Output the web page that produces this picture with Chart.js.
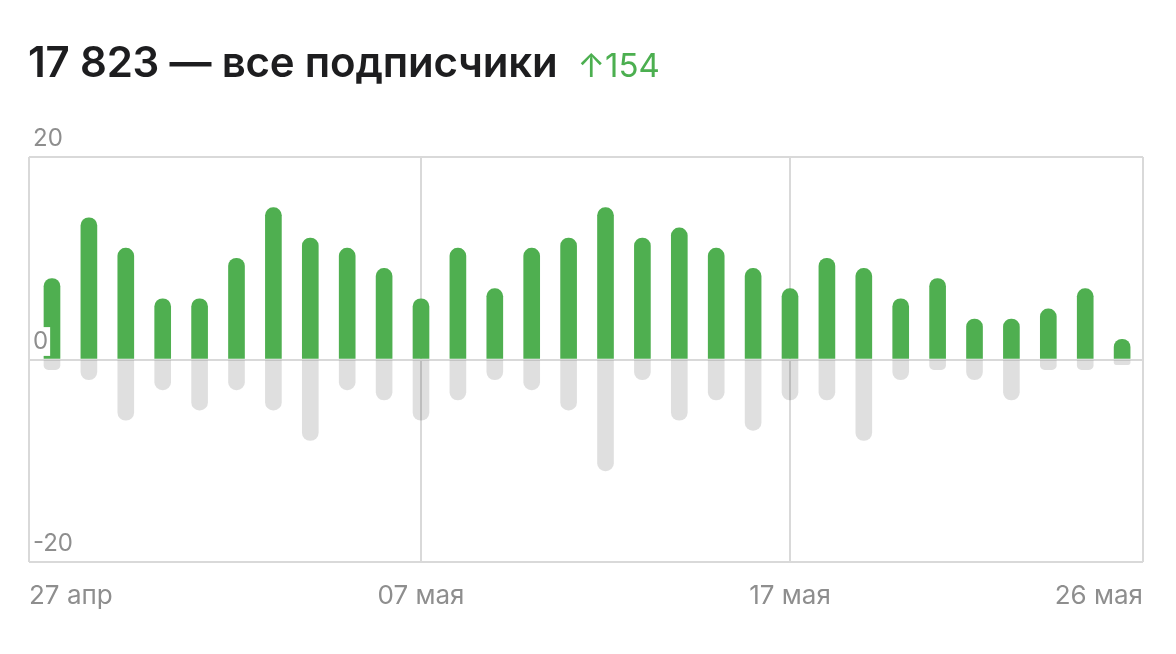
<!DOCTYPE html>
<html><head><meta charset="utf-8">
<script src="https://cdn.jsdelivr.net/npm/chart.js@4"></script>
<style>
html,body{margin:0;padding:0;background:#fff;}
#wrap{position:relative;width:1176px;height:654px;overflow:hidden;}
canvas{position:absolute;left:0;top:0;}
#title{position:absolute;left:28px;top:41px;font-family:Inter,"Noto Sans",sans-serif;white-space:nowrap;line-height:42px;}
#title .main{font-size:42px;font-weight:600;color:#1d1d1f;letter-spacing:-0.2px;}
#title .delta{font-size:33px;font-weight:400;color:#4caf50;margin-left:20px;}
</style></head>
<body>
<div id="wrap">
<canvas id="c" width="1176" height="654"></canvas>
<div id="title"><span class="main">17 823 — все подписчики</span><span class="delta">↑154</span></div>
</div>
<script>
const categories = ['27 апр','28 апр','29 апр','30 апр','01 мая','02 мая','03 мая','04 мая','05 мая','06 мая',
  '07 мая','08 мая','09 мая','10 мая','11 мая','12 мая','13 мая','14 мая','15 мая','16 мая',
  '17 мая','18 мая','19 мая','20 мая','21 мая','22 мая','23 мая','24 мая','25 мая','26 мая'];
const subscribed = [8,14,11,6,6,10,15,12,11,9,6,11,7,11,12,15,12,13,11,9,7,10,9,6,8,4,4,5,7,2];
const unsubscribed = [-1,-2,-6,-3,-5,-3,-5,-8,-3,-4,-6,-4,-2,-3,-5,-11,-2,-6,-4,-7,-4,-4,-8,-2,-1,-2,-4,-1,-1,-0.5];
const yTickValues = [-20,0,20];
const xTickLabels = ['27 апр','07 мая','17 мая','26 мая'];
const xTickDays = [0,10,20,29];

const X_MIN = -0.623, X_MAX = 29.566;
const GREEN = '#4faf50';
const GRAY = 'rgba(0,0,0,0.125)';
const GRID = '#d9d9d9';
const TXT = '#8e8e8e';

const toPoints = arr => arr.map((v,i) => ({x:i, y:v}));

new Chart(document.getElementById('c'), {
  type: 'bar',
  data: {
    labels: categories,
    datasets: [
      {label:'Подписались', data: toPoints(subscribed), backgroundColor: GREEN, grouped:false,
       barThickness:16, borderRadius:8, borderSkipped:'start', order:1},
      {label:'Отписались', data: toPoints(unsubscribed), backgroundColor: GRAY, grouped:false,
       barThickness:16, borderRadius:8, borderSkipped:'start', order:2}
    ]
  },
  options: {
    responsive:false, animation:false,
    layout:{ autoPadding:false, padding:{left:21, right:33, top:157, bottom:0} },
    plugins:{ legend:{display:false}, tooltip:{enabled:false}, title:{display:false} },
    scales:{
      x:{
        type:'linear', min:X_MIN, max:X_MAX, offset:false,
        afterBuildTicks: s => { s.ticks = xTickDays.map((d,i) => ({value: i===0 ? X_MIN : (i===xTickDays.length-1 ? X_MAX : d)})); },
        afterFit: s => { s.height = 92; },
        grid:{ color:GRID, lineWidth:2, drawTicks:false, offset:false },
        border:{ display:false },
        ticks:{ align:'inner', padding:19, maxRotation:0, autoSkip:false, color:TXT,
          font:{family:'Inter', size:26},
          callback:(v,i) => xTickLabels[i] }
      },
      y:{
        min:-20, max:20,
        afterBuildTicks: s => { s.ticks = yTickValues.map(v => ({value:v})); },
        grid:{ color:GRID, lineWidth:2, drawTicks:false },
        border:{ display:false },
        ticks:{ mirror:true, padding:4, labelOffset:-18, color:TXT, z:1,
          font:{family:'Inter', size:24},
          showLabelBackdrop:true, backdropColor:'#ffffff', backdropPadding:{x:2,y:0},
          callback: v => String(v) }
      }
    }
  }
});
</script>
</body></html>
